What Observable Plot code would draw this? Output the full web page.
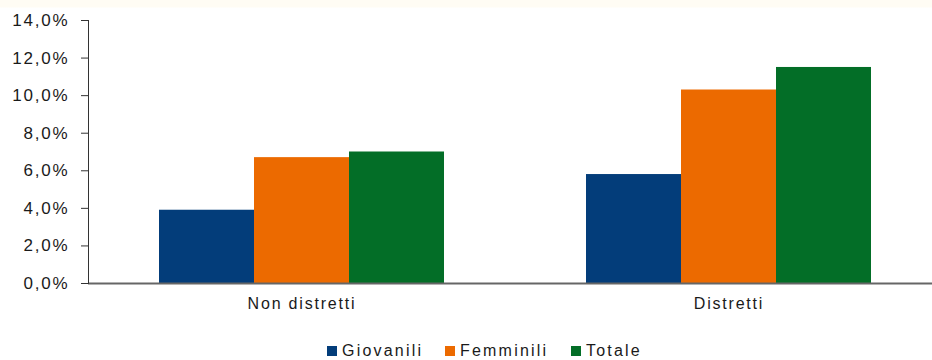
<!DOCTYPE html>
<html><head><meta charset="utf-8">
<script src="https://cdn.jsdelivr.net/npm/d3@7"></script>
<script src="https://cdn.jsdelivr.net/npm/@observablehq/plot@0.6"></script>
<style>
body{margin:0;background:#fff;font-family:"Liberation Sans",Arial,sans-serif;}
#wrap{position:relative;width:932px;height:360px;overflow:hidden;background:linear-gradient(#fffcf4 0,#fffcf4 7px,#fff 8px);}
#legend{position:absolute;top:342px;left:0;width:932px;height:18px;font-size:16px;letter-spacing:2.2px;color:#1a1a1a;}
.item{position:absolute;top:0;display:flex;align-items:center;height:18px;white-space:nowrap;}
.sw{width:10px;height:10px;margin-right:5px;}
</style></head><body><div id="wrap"><div id="chart"></div><div id="legend"></div></div>
<script>
const categories = ["Non distretti", "Distretti"];
const series = ["Giovanili", "Femminili", "Totale"];
const giovanili = [3.9, 5.8];
const femminili = [6.7, 10.3];
const totale = [7.0, 11.5];
const yTicks = [0, 2, 4, 6, 8, 10, 12, 14];
const colors = ["#033d7a", "#ec6a00", "#036e27"];
const legendX = [327, 445, 571];

const valuesBySeries = [giovanili, femminili, totale];
const rows = categories.flatMap((c, i) => series.map((s, j) => ({cat: c, s, v: valuesBySeries[j][i]})));
const fmt = d => d.toFixed(1).replace(".", ",") + "%";

const chart = Plot.plot({
  width: 932, height: 322,
  marginTop: 20, marginBottom: 39, marginLeft: 87, marginRight: -10,
  fx: {domain: categories, padding: 0},
  x: {domain: series, paddingInner: 0, paddingOuter: 0.74, axis: null},
  y: {domain: [0, 14], axis: null},
  color: {domain: series, range: colors},
  style: {fontFamily: "Liberation Sans, Arial, sans-serif", fontSize: "16px", color: "#1a1a1a", background: "transparent", letterSpacing: "1.8px"},
  marks: [
    Plot.barY(rows, {fx: "cat", x: "s", y: "v", fill: "s"}),
    Plot.ruleY([0], {stroke: "#666", strokeWidth: 2}),
    Plot.frame({anchor: "left", stroke: "#333", facetAnchor: "left"}),
    Plot.axisY({ticks: yTicks, tickFormat: fmt, tickSize: 7, tickPadding: 12, stroke: "#333", label: null, fontSize: 17}),
    Plot.axisFx({anchor: "bottom", tickSize: 0, tickPadding: 14, label: null, fontSize: 16})
  ]
});
document.getElementById("chart").appendChild(chart);

const legend = document.getElementById("legend");
series.forEach((s, i) => {
  const it = document.createElement("div");
  it.className = "item";
  it.style.left = legendX[i] + "px";
  const sw = document.createElement("span");
  sw.className = "sw";
  sw.style.background = colors[i];
  const t = document.createElement("span");
  t.textContent = s;
  it.appendChild(sw); it.appendChild(t);
  legend.appendChild(it);
});
</script></body></html>
